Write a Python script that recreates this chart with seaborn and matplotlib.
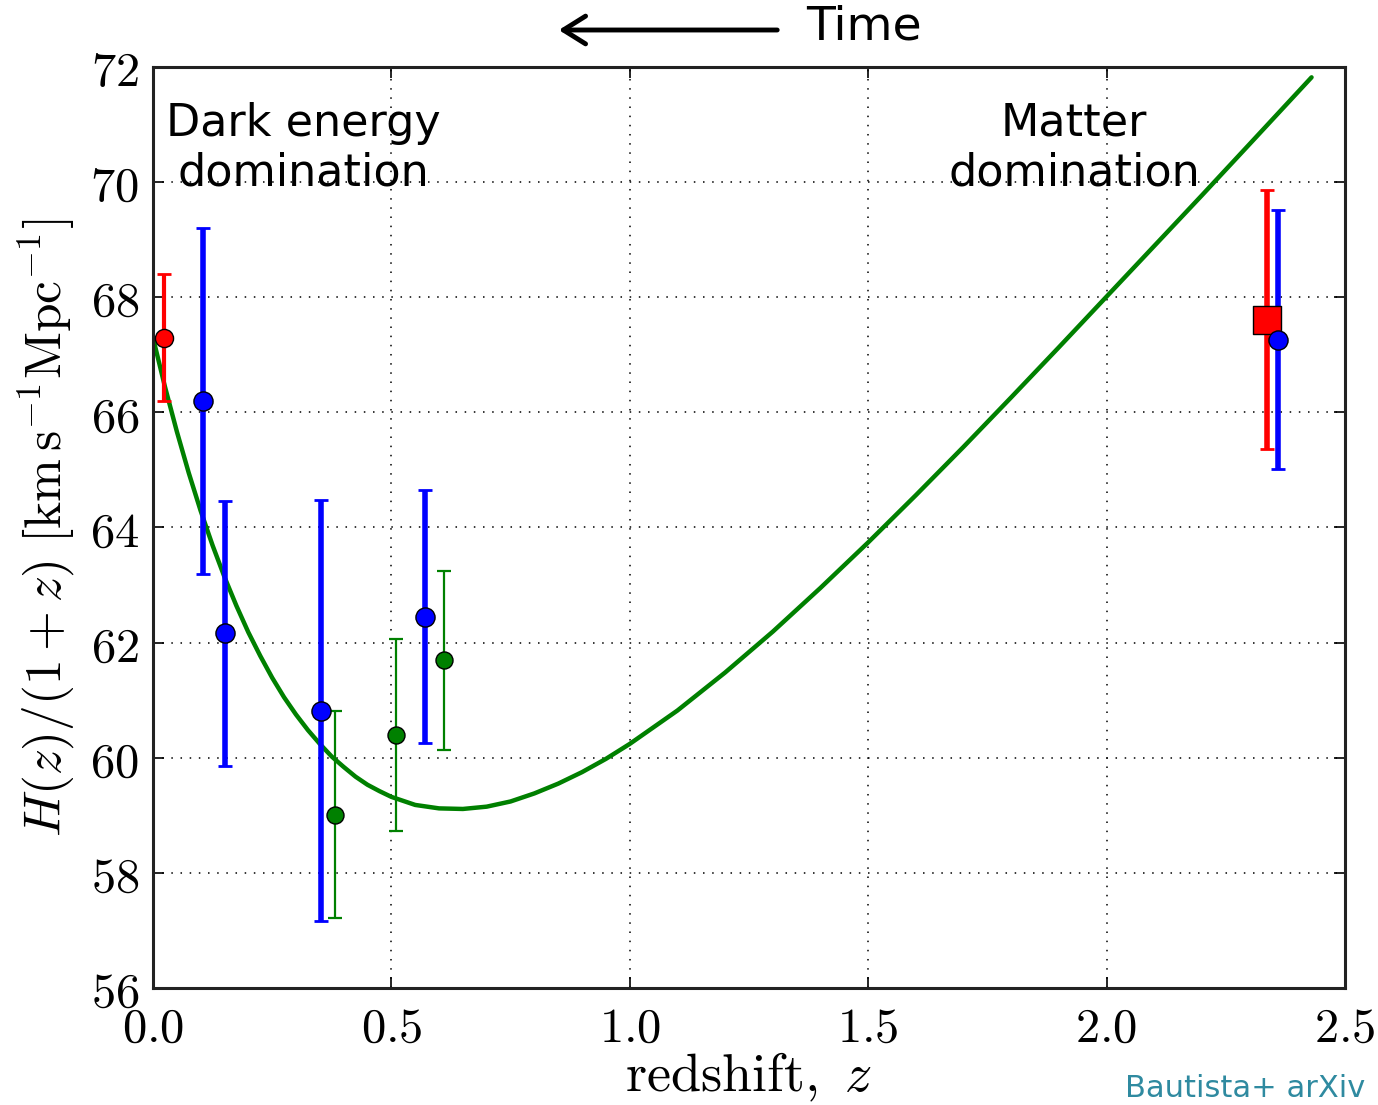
import numpy as np
import pandas as pd
import seaborn as sns
import matplotlib
matplotlib.use("Agg")
import matplotlib.pyplot as plt
from matplotlib.ticker import FixedLocator, FuncFormatter

# ---- data ----
curve_z = [0.0, 0.025, 0.05, 0.075, 0.1, 0.125, 0.15, 0.175, 0.2, 0.225, 0.25, 0.275, 0.3,
           0.325, 0.35, 0.375, 0.4, 0.425, 0.45, 0.475, 0.5, 0.55, 0.6, 0.65, 0.7, 0.75,
           0.8, 0.85, 0.9, 0.95, 1.0, 1.1, 1.2, 1.3, 1.4, 1.5, 1.6, 1.7, 1.8, 1.9, 2.0,
           2.1, 2.2, 2.3, 2.43]
curve_h = [67.30, 66.45, 65.67, 64.95, 64.29, 63.69, 63.14, 62.64, 62.18, 61.77, 61.39, 61.05,
           60.75, 60.48, 60.24, 60.02, 59.84, 59.67, 59.53, 59.42, 59.32, 59.18, 59.12, 59.11,
           59.15, 59.24, 59.38, 59.55, 59.75, 59.98, 60.24, 60.82, 61.48, 62.19, 62.95, 63.74,
           64.56, 65.40, 66.26, 67.13, 68.01, 68.89, 69.77, 70.66, 71.82]

blue_z = [0.105, 0.151, 0.352, 0.570, 2.359]
blue_h = [66.2, 62.16, 60.82, 62.45, 67.26]
blue_err = [3.0, 2.3, 3.65, 2.2, 2.25]

green_z = [0.382, 0.510, 0.610]
green_h = [59.01, 60.39, 61.69]
green_err = [1.8, 1.67, 1.55]

red_circ_z = [0.023]
red_circ_h = [67.3]
red_circ_err = [1.1]

red_sq_z = [2.336]
red_sq_h = [67.61]
red_sq_err = [2.25]

x_ticks = [0.0, 0.5, 1.0, 1.5, 2.0, 2.5]
y_ticks = [56, 58, 60, 62, 64, 66, 68, 70, 72]

sns.set_theme(style="ticks")
plt.rcParams["mathtext.fontset"] = "cm"
plt.rcParams["font.family"] = ["DejaVu Sans"]
plt.rcParams["text.color"] = "black"
plt.rcParams["axes.labelcolor"] = "black"

fig = plt.figure(figsize=(13.78, 11.05), dpi=100)
ax = fig.add_axes([0.111, 0.1059, 0.865, 0.8335])

curve_df = pd.DataFrame({"z": curve_z, "h": curve_h})
sns.lineplot(data=curve_df, x="z", y="h", ax=ax, color="green", lw=3.2,
             sort=False, estimator=None, zorder=2,
             solid_joinstyle="round", solid_capstyle="round")

# error bars
ax.errorbar(red_circ_z, red_circ_h, yerr=red_circ_err, fmt="none", ecolor="red",
            elinewidth=3, capsize=5, capthick=2, zorder=3)
ax.errorbar(red_sq_z, red_sq_h, yerr=red_sq_err, fmt="none", ecolor="red",
            elinewidth=4, capsize=5, capthick=2, zorder=3)
ax.errorbar(blue_z, blue_h, yerr=blue_err, fmt="none", ecolor="blue",
            elinewidth=4, capsize=5, capthick=2, zorder=3)
ax.errorbar(green_z, green_h, yerr=green_err, fmt="none", ecolor="green",
            elinewidth=1.6, capsize=5, capthick=1.6, zorder=3)

# markers
sns.scatterplot(x=red_circ_z, y=red_circ_h, ax=ax, color="red", marker="o", s=170,
                edgecolor="black", linewidth=1, zorder=5)
sns.scatterplot(x=blue_z, y=blue_h, ax=ax, color="blue", marker="o", s=190,
                edgecolor="black", linewidth=1, zorder=5)
sns.scatterplot(x=green_z, y=green_h, ax=ax, color="green", marker="o", s=150,
                edgecolor="black", linewidth=1, zorder=5)
sns.scatterplot(x=red_sq_z, y=red_sq_h, ax=ax, color="red", marker="s", s=380,
                edgecolor="black", linewidth=1, zorder=4)

ax.set_xlim(0, 2.5)
ax.set_ylim(56, 72)
ax.xaxis.set_major_locator(FixedLocator(x_ticks))
ax.yaxis.set_major_locator(FixedLocator(y_ticks))
ax.xaxis.set_major_formatter(FuncFormatter(lambda v, p: r"$%.1f$" % v))
ax.yaxis.set_major_formatter(FuncFormatter(lambda v, p: r"$%d$" % v))
ax.tick_params(axis="both", which="major", direction="in", length=8, width=1.2,
               top=True, right=True, labelsize=35, colors="black")
ax.tick_params(axis="x", pad=11)
ax.tick_params(axis="y", pad=10)
for s in ax.spines.values():
    s.set_linewidth(2.2)
    s.set_color("#222222")
ax.grid(True, linestyle=(0, (1, 5)), color="black", linewidth=1.1)

ax.set_xlabel(r"$\mathrm{redshift,}\ z$", fontsize=39, labelpad=0)
ax.set_ylabel(r"$H(z)/(1+z)\ [\mathrm{km\,s^{-1}Mpc^{-1}}]$", fontsize=37, labelpad=10)

ax.text(0.126, 0.962, "Dark energy\ndomination", transform=ax.transAxes, ha="center",
        va="top", fontsize=32, linespacing=1.2, color="black")
ax.text(0.773, 0.962, "Matter\ndomination", transform=ax.transAxes, ha="center",
        va="top", fontsize=32, linespacing=1.2, color="black")

# time arrow
fig.patches.append(matplotlib.patches.FancyArrowPatch(
    (780 / 1378, 1 - 30 / 1105), (556 / 1378, 1 - 30 / 1105),
    transform=fig.transFigure, arrowstyle="->,head_length=0.8,head_width=0.5",
    mutation_scale=20, lw=3.5, color="black"))
fig.text(806 / 1378, 1 - 27 / 1105, "Time", ha="left", va="center", fontsize=34,
         color="black")

fig.text(1125 / 1378, 2 / 1105, "Bautista+ arXiv", ha="left", va="bottom",
         fontsize=22, color="#2f8aa0")

fig.savefig("out.png", dpi=100)
